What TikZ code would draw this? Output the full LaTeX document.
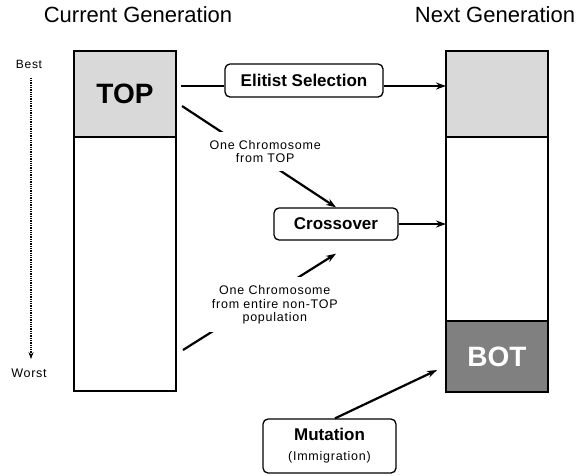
\documentclass[tikz,border=0pt]{standalone}
\usepackage{fontspec}
\setmainfont{Liberation Sans}
\newfontfamily\spaced[LetterSpace=6]{Liberation Sans}
\usepackage{tikz}
\usepackage{xcolor}
\usetikzlibrary{positioning}
\usetikzlibrary{calc}
\usetikzlibrary{arrows.meta}
\definecolor{topcolor}{RGB}{217, 217, 217}
\definecolor{botcolor}{RGB}{128, 128, 128}
\tikzstyle{genbox} = [
    draw=black,
    line width=2.5pt,
    minimum width=102pt,
    outer sep=0pt,
    inner sep=0pt,
    font=\fontsize{28}{32}\selectfont\bfseries
]
\tikzstyle{opbox} = [
    draw=black,
    line width=1.3pt,
    rounded corners=5pt,
    fill=white,
    font=\fontsize{17}{19}\selectfont\bfseries
]
\tikzstyle{flow} = [
    line width=2.2pt,
    -{Stealth[length=10pt,width=7pt]}
]
\tikzstyle{chromo} = [
    fill=white,
    align=center,
    inner xsep=4pt,
    inner ysep=8pt,
    font=\spaced\fontsize{12.5}{13.5}\selectfont
]
\tikzstyle{rank} = [
    line width=1.3pt,
    densely dotted,
    -{Stealth[length=7pt,width=5pt]}
]
\tikzstyle{heading} = [
    font=\fontsize{22}{26}\selectfont
]

\begin{document}
\begin{tikzpicture}[x=1pt, y=-1pt, node distance=0cm and 0cm]
	\useasboundingbox (0,0) rectangle (577,475);
	
	%
	% Headings and ranking
	\node[heading] (curhead) at (138,15) {Current Generation};
	\node[heading] (nexthead) at (495,15) {Next Generation};
	\node[font=\spaced\fontsize{12}{14}\selectfont] (best) at (29,64) {Best};
	\node[font=\spaced\fontsize{12.5}{14}\selectfont] (worst) at (29,373) {Worst};
	\draw[rank] ([xshift=2pt,yshift=-6pt]best.south) -- ([xshift=2pt,yshift=6pt]worst.north);
	
	%
	% Current generation
	\node[genbox, fill=topcolor, minimum height=86pt] (curtop) at (125,94) {TOP};
	\node[genbox, fill=white, minimum height=254pt, below=of curtop] (currest) {};
	
	%
	% Next generation
	\node[genbox, fill=topcolor, minimum height=86pt] (nexttop) at (497,94) {};
	\node[genbox, fill=white, minimum height=184pt, below=of nexttop] (nextmid) {};
	\node[genbox, fill=botcolor, text=white, minimum height=71pt, below=of nextmid] (nextbot) {BOT};
	
	%
	% Operators
	\node[opbox, minimum width=158pt, minimum height=33pt] (elit) at (304,80.5) {Elitist Selection};
	\node[opbox, minimum width=124pt, minimum height=32pt] (cross) at (336,224) {Crossover};
	\node[opbox, minimum width=133pt, minimum height=54pt, align=center] (mut) at (329.5,446) {Mutation\\[1pt]{\spaced\mdseries\fontsize{12.5}{14}\selectfont (Immigration)}};
	
	%
	% Connectors
	\coordinate (elitin) at (181,86);
	\draw[line width=2.2pt] (elitin) -- (elitin -| elit.west);
	\draw[flow] (elitin -| elit.east) -- (elitin -| nexttop.west);
	
	\coordinate (topout) at (182,106);
	\draw[flow] (topout) -- node[chromo, pos=0.54, yshift=9pt] {One Chromosome\\from TOP} (cross.north);
	
	\coordinate (restout) at (183,350);
	\draw[flow] (restout) -- node[chromo, pos=0.6, yshift=-12.6pt] {One Chromosome\\from entire non-TOP\\population} ([yshift=-13pt]cross.south);
	
	\draw[flow] (cross.east) -- (cross.east -| nextmid.west);
	
	\coordinate (botin) at (437,370);
	\draw[flow] ([xshift=5.5pt]mut.north) -- (botin);
	
\end{tikzpicture}
\end{document}
